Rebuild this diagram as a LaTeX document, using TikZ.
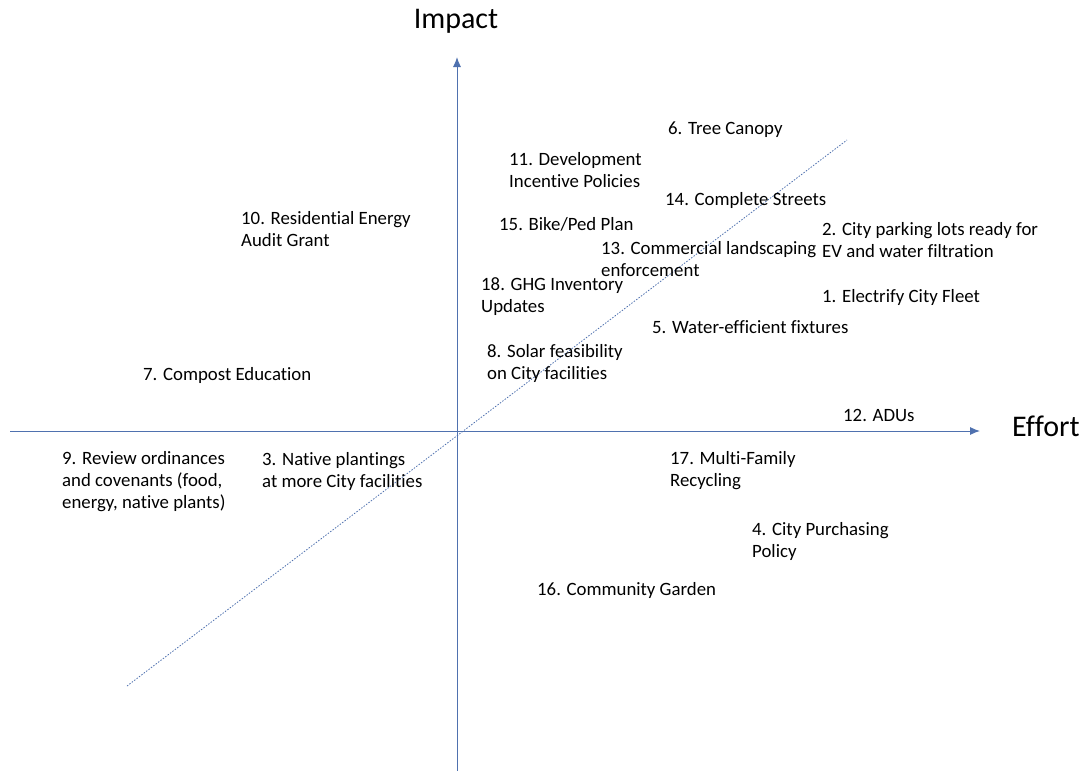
\documentclass[tikz,border=0pt]{standalone}
\usepackage{fontspec}
\setmainfont{Carlito}[Ligatures=NoCommon]
\usetikzlibrary{arrows.meta}
\definecolor{axisblue}{RGB}{79,113,175}

\begin{document}
\begin{tikzpicture}[x=1pt,y=-1pt,
  item/.style={anchor=west,align=left,inner sep=0pt,font=\fontsize{18.8}{22}\selectfont},
  title/.style={font=\fontsize{30}{34}\selectfont,inner sep=0pt},
  axis/.style={draw=axisblue,line width=1pt,-{Latex[length=10pt,width=8pt]}}]
\useasboundingbox (0,0) rectangle (1085,771);
% axes
\coordinate (ybot) at (457,771); \coordinate (ytop) at (457,57);
\coordinate (xleft) at (10,431); \coordinate (xright) at (980,431);
\draw [axis] (ybot) -- (ytop);
\draw [axis] (xleft) -- (xright);
\node [title] (impact) at (456,21) {Impact};
\node [title,anchor=west] (effort) at (1012,426) {Effort};
% diagonal
\coordinate (dlow) at (127,686); \coordinate (dhigh) at (847,140);
\draw [axisblue,line width=0.8pt,dash pattern=on 1.5pt off 1.5pt] (dlow) -- (dhigh);
% actions
\foreach \n/\x/\y/\t in {
  6/668/130/{6. Tree Canopy},
  11/509/170/{11. Development\\Incentive Policies},
  14/665/200/{14. Complete Streets},
  15/499/224/{15. Bike/Ped Plan},
  13/601/259/{13. Commercial landscaping\\enforcement},
  2/822/240/{2. City parking lots ready for\\EV and water filtration},
  10/241/229/{10. Residential Energy\\Audit Grant},
  18/481/297/{18. GHG Inventory\\Updates},
  1/822/297/{1. Electrify City Fleet},
  5/652/327/{5. Water-efficient fixtures},
  8/487/363/{8. Solar feasibility\\on City facilities},
  7/143/375/{7. Compost Education},
  12/843/415/{12. ADUs},
  9/62/482/{9. Review ordinances\\and covenants (food,\\energy, native plants)},
  3/262/471/{3. Native plantings\\at more City facilities},
  17/670/471/{17. Multi-Family\\Recycling},
  4/752/541/{4. City Purchasing\\Policy},
  16/537/590/{16. Community Garden}}
  { \node [item] (a\n) at (\x,\y) {\t}; };
\end{tikzpicture}
\end{document}
